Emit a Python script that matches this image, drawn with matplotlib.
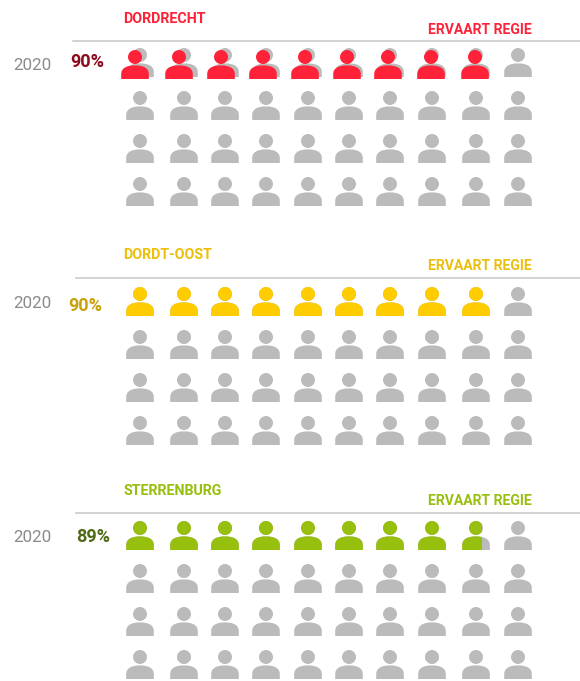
import matplotlib
matplotlib.use("Agg")
import matplotlib.pyplot as plt
from matplotlib.patches import PathPatch, Rectangle
from matplotlib.path import Path
from matplotlib.transforms import Affine2D

# data
names = ["DORDRECHT", "DORDT-OOST", "STERRENBURG"]
year = "2020"
pct_labels = ["90%", "90%", "89%"]
filled = [9, 9, 8.7]  # icons coloured, first row
side_label = "ERVAART REGIE"

# styles
title_cols = ["#FF2238", "#EDBE0C", "#97BF0D"]
pct_cols = ["#8C0A1C", "#C9A10A", "#4E6A17"]
icon_cols = ["#FF2238", "#FFCC00", "#97BF0D"]
grey = "#BBBBBB"

# layout, in pixels of the picture
col_x = [140, 184, 225, 266, 308, 349, 390, 432, 476, 518]
red_x = [135, 179, 221, 263, 305, 347, 388, 431, 475]
row_y = [[77, 120, 163, 206], [316, 359, 402, 445], [550, 593, 636, 679]]
color_y = [79, 316, 550]
line_y = [41, 278, 513]
line_x0 = [73, 76, 76]
title_y = [19, 255, 491]
side_y = [30, 266, 501]
year_y = [65, 303, 538]
pct_x = [104, 102, 110]
pct_y = [62, 306, 537]

bold = ["Roboto", "DejaVu Sans"]

# person icon, origin at bottom centre, y pointing down
k = 0.5523
r = 7.0
hy = -22.0
head = [(Path.MOVETO, (0, hy - r)),
        (Path.CURVE4, (k * r, hy - r)), (Path.CURVE4, (r, hy - k * r)), (Path.CURVE4, (r, hy)),
        (Path.CURVE4, (r, hy + k * r)), (Path.CURVE4, (k * r, hy + r)), (Path.CURVE4, (0, hy + r)),
        (Path.CURVE4, (-k * r, hy + r)), (Path.CURVE4, (-r, hy + k * r)), (Path.CURVE4, (-r, hy)),
        (Path.CURVE4, (-r, hy - k * r)), (Path.CURVE4, (-k * r, hy - r)), (Path.CURVE4, (0, hy - r)),
        (Path.CLOSEPOLY, (0, hy - r))]
body = [(Path.MOVETO, (-13.8, 0)), (Path.LINETO, (-13.8, -5)),
        (Path.CURVE4, (-13.8, -10.5)), (Path.CURVE4, (-9, -13.6)), (Path.CURVE4, (0, -13.6)),
        (Path.CURVE4, (9, -13.6)), (Path.CURVE4, (13.8, -10.5)), (Path.CURVE4, (13.8, -5)),
        (Path.LINETO, (13.8, 0)), (Path.CLOSEPOLY, (-13.8, 0))]
codes, verts = zip(*(head + body))
person = Path(verts, codes)


def draw_icon(ax, x, y, col, frac=1.0, z=2):
    trans = Affine2D().translate(x, y) + ax.transData
    p = PathPatch(person, fc=col, ec="none", transform=trans, zorder=z)
    ax.add_patch(p)
    if frac < 1:
        clip = Rectangle((x - 13.8, y - 30), 27.6 * frac, 31, transform=ax.transData)
        p.set_clip_path(clip)


fig = plt.figure(figsize=(5.8, 6.81), dpi=100)
ax = fig.add_axes([0, 0, 1, 1])
ax.set_xlim(0, 580)
ax.set_ylim(681, 0)
ax.axis("off")

for i, name in enumerate(names):
    ax.plot([line_x0[i], 580], [line_y[i], line_y[i]], color="#C6C6C6", lw=1.1, zorder=1)
    ax.text(123, title_y[i], name, color=title_cols[i], fontsize=10.3, fontweight="bold",
            family=bold, va="center", ha="left")
    ax.text(428, side_y[i], side_label, color=title_cols[i], fontsize=10.1, fontweight="bold",
            family=bold, va="center", ha="left")
    ax.text(13, year_y[i], year, color="#8A8A8A", fontsize=12.2, family=bold,
            va="center", ha="left")
    ax.text(pct_x[i], pct_y[i], pct_labels[i], color=pct_cols[i], fontsize=13, fontweight="bold",
            family=bold, va="center", ha="right")

    for y in row_y[i]:
        for x in col_x:
            draw_icon(ax, x, y, grey)
    # coloured icons on the first row
    for c in range(len(col_x)):
        left = filled[i] - c
        if left <= 0:
            break
        x = red_x[c] if i == 0 else col_x[c]
        draw_icon(ax, x, color_y[i], icon_cols[i], min(left, 1.0), z=3)

fig.savefig("out.png", dpi=100, facecolor="white")
